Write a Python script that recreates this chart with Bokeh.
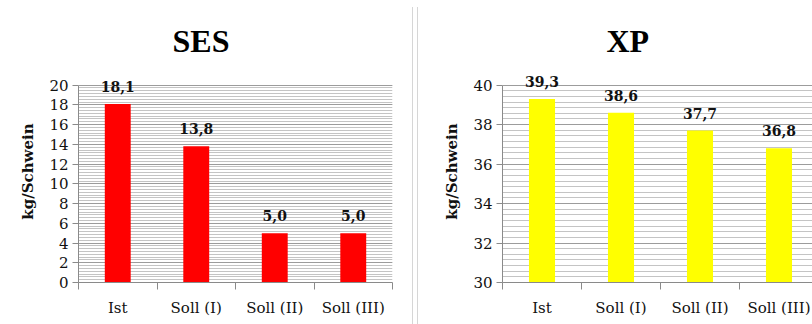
from bokeh.plotting import figure
from bokeh.layouts import row
from bokeh.models import (ColumnDataSource, Range1d, FixedTicker, SingleIntervalTicker,
                          Label, Div)
from bokeh.embed import file_html
from bokeh.resources import INLINE

# Data
categories = ["Ist", "Soll (I)", "Soll (II)", "Soll (III)"]
ses_values = [18.1, 13.8, 5.0, 5.0]
xp_values = [39.3, 38.6, 37.7, 36.8]
y_label = "kg/Schwein"

TICK_FONT = "DejaVu Serif"
TITLE_FONT = "Liberation Serif"
AXIS_GRAY = "#8a8a8a"


def bar_panel(title, values, color, y_start, y_end, headroom, width, border_left,
              x_end, title_offset):
    x = [i + 0.5 for i in range(len(categories))]
    src = ColumnDataSource(dict(x=x, top=values))

    p = figure(width=width, height=324, output_backend="svg", toolbar_location=None,
               x_range=Range1d(0, x_end), y_range=Range1d(y_start, y_end + headroom),
               min_border_left=border_left,
               min_border_right=0 if x_end < 4 else width - border_left - 314,
               min_border_top=60, min_border_bottom=42,
               title=title)
    p.outline_line_color = None
    p.background_fill_color = "white"

    p.title.text_font = TITLE_FONT
    p.title.text_font_size = "32px"
    p.title.text_font_style = "bold"
    p.title.text_color = "#000000"
    p.title.align = "left"
    p.title.offset = title_offset
    p.title.standoff = 4

    # striped plot background from dense minor grid lines, up to the top tick
    p.ygrid.ticker = SingleIntervalTicker(interval=2, num_minor_ticks=7)
    p.ygrid.bounds = (y_start, y_end)
    p.ygrid.grid_line_color = "#9c9c9c"
    p.ygrid.minor_grid_line_color = "#c4c4c4"
    p.xgrid.visible = False

    p.vbar(x="x", top="top", width=0.33, source=src, fill_color=color,
           line_color=None)

    # value labels above the bars
    for xi, v in zip(x, values):
        p.add_layout(Label(x=xi, y=v, text=f"{v:.1f}".replace(".", ","),
                           text_align="center", text_baseline="bottom", y_offset=12,
                           text_font=TICK_FONT, text_font_size="14px",
                           text_font_style="bold", text_color="#111111"))

    # y axis
    ya = p.yaxis[0]
    ya.ticker = SingleIntervalTicker(interval=2, num_minor_ticks=7)
    ya.bounds = (y_start, y_end)
    ya.axis_line_color = AXIS_GRAY
    ya.major_tick_line_color = AXIS_GRAY
    ya.major_tick_out = 6
    ya.major_tick_in = 0
    ya.minor_tick_line_color = None
    ya.major_label_text_font = TICK_FONT
    ya.major_label_text_font_size = "15px"
    ya.major_label_text_color = "#111111"
    ya.major_label_standoff = 4
    ya.axis_label = y_label
    ya.axis_label_text_font = TICK_FONT
    ya.axis_label_text_font_size = "15px"
    ya.axis_label_text_font_style = "bold"
    ya.axis_label_text_color = "#111111"
    ya.axis_label_standoff = 9

    # x axis: labels centred, ticks on category boundaries
    xa = p.xaxis[0]
    xa.ticker = FixedTicker(ticks=x, minor_ticks=list(range(len(categories) + 1)))
    xa.major_label_overrides = {xi: c for xi, c in zip(x, categories)}
    xa.axis_line_color = AXIS_GRAY
    xa.major_tick_line_color = None
    xa.major_tick_out = 0
    xa.major_tick_in = 0
    xa.minor_tick_line_color = AXIS_GRAY
    xa.minor_tick_out = 7
    xa.minor_tick_in = 0
    xa.major_label_text_font = TICK_FONT
    xa.major_label_text_font_size = "15px"
    xa.major_label_text_color = "#111111"
    xa.major_label_standoff = 9
    return p


left = bar_panel("SES", ses_values, "#ff0000", 0, 20, 2.5, 412, 78, 4, 94)
right = bar_panel("XP", xp_values, "#ffff00", 30, 40, 1.25, 394, 84, 310 / 79, 104)

# thin divider between the two charts
sep = Div(text="", width=6, height=317, margin=(7, 0, 0, 0),
          styles={"border-left": "1px solid #d6d6d6",
                  "border-right": "1px solid #d6d6d6",
                  "box-sizing": "border-box"})

layout = row(left, sep, right, spacing=0)
open("out.html", "w").write(file_html(layout, INLINE))
